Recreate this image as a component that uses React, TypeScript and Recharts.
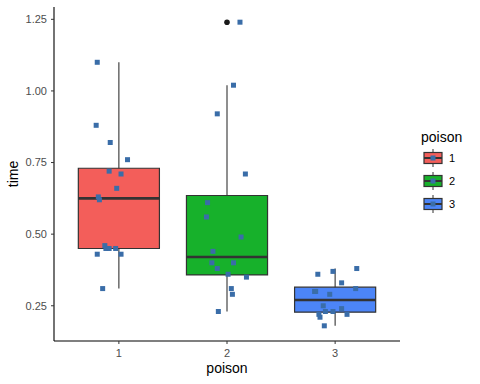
import React from 'react'
import { ScatterChart, Scatter, XAxis, YAxis, ReferenceArea, ReferenceLine } from 'recharts'

const categories = [1, 2, 3]
const categoryLabels = ['1', '2', '3']
const yTicks = [0.25, 0.5, 0.75, 1.0, 1.25]
const boxColors = ['#F35E5A', '#17B12B', '#4C85F7']

// box statistics per poison
const whiskerLow = [0.31, 0.23, 0.18]
const q1 = [0.45, 0.3575, 0.2275]
const medians = [0.625, 0.42, 0.27]
const q3 = [0.73, 0.635, 0.315]
const whiskerHigh = [1.1, 1.02, 0.38]
const outlierCat = [2]
const outlierTime = [1.24]

// jittered observations: time and horizontal jitter (category units)
const time1 = [1.1, 0.88, 0.82, 0.76, 0.72, 0.71, 0.66, 0.63, 0.62, 0.45, 0.46, 0.45, 0.45, 0.43, 0.43, 0.31]
const jitter1 = [-0.2, -0.21, -0.08, 0.08, -0.09, 0.02, -0.02, -0.19, -0.18, -0.12, -0.13, -0.09, -0.03, -0.2, 0.02, -0.15]
const time2 = [1.24, 1.02, 0.92, 0.71, 0.61, 0.56, 0.49, 0.44, 0.4, 0.38, 0.4, 0.36, 0.35, 0.31, 0.29, 0.23]
const jitter2 = [0.12, 0.06, -0.09, 0.17, -0.18, -0.19, 0.13, -0.13, -0.14, -0.09, 0.06, 0.01, 0.18, 0.04, 0.05, -0.08]
const time3 = [0.38, 0.37, 0.36, 0.33, 0.31, 0.3, 0.3, 0.29, 0.25, 0.24, 0.23, 0.23, 0.22, 0.22, 0.21, 0.18]
const jitter3 = [0.2, -0.02, -0.16, 0.06, 0.19, -0.19, -0.18, -0.05, -0.11, 0.06, -0.09, -0.02, -0.15, 0.11, -0.14, -0.1]

const times = [time1, time2, time3]
const jitters = [jitter1, jitter2, jitter3]

const pointData = categories.flatMap((c, i) =>
  times[i].map((t, j) => ({ x: c + jitters[i][j], y: t }))
)
const outlierData = outlierCat.map((c, i) => ({ x: c, y: outlierTime[i] }))

const FONT = '"Liberation Sans", Arial, Helvetica, sans-serif'
const BOX_HALF = 0.375
const LINE = '#333333'
const POINT = '#3A6DA8'

const Square = (p: any) => (
  <rect x={p.cx - 2.5} y={p.cy - 2.5} width={5} height={5} fill={POINT} />
)
const Dot = (p: any) => <circle cx={p.cx} cy={p.cy} r={2.8} fill="#1A1A1A" />

function LegendKey({ color }: { color: string }) {
  return (
    <svg width={22} height={22} style={{ display: 'block' }}>
      <line x1={11} x2={11} y1={2} y2={20} stroke={LINE} strokeWidth={1} />
      <rect x={2} y={5.5} width={18} height={11} fill={color} stroke={LINE} strokeWidth={1.2} />
      <line x1={2} x2={20} y1={11} y2={11} stroke={LINE} strokeWidth={2} />
      <rect x={8.5} y={8.5} width={5} height={5} fill={POINT} />
    </svg>
  )
}

export default function App() {
  return (
    <div style={{ position: 'absolute', left: 0, top: 0, width: 480, height: 384, background: '#fff', fontFamily: FONT }}>
      <ScatterChart width={480} height={384} margin={{ top: 7, right: 80, bottom: 0, left: 0 }}>
        <XAxis
          type="number"
          dataKey="x"
          domain={[0.4, 3.6]}
          ticks={categories}
          tickFormatter={(v: number) => categoryLabels[categories.indexOf(v)] ?? ''}
          allowDataOverflow
          height={43}
          tickSize={3}
          tickMargin={5}
          axisLine={{ stroke: '#000', strokeWidth: 1.1 }}
          tickLine={{ stroke: LINE }}
          tick={{ fill: '#4D4D4D', fontSize: 11, fontFamily: FONT }}
          label={{ value: 'poison', position: 'insideBottom', offset: 11, fill: '#000', fontSize: 14, fontFamily: FONT }}
        />
        <YAxis
          type="number"
          dataKey="y"
          domain={[0.127, 1.293]}
          ticks={yTicks}
          tickFormatter={(v: number) => v.toFixed(2)}
          allowDataOverflow
          width={54}
          tickSize={3}
          tickMargin={4}
          axisLine={{ stroke: '#000', strokeWidth: 1.1 }}
          tickLine={{ stroke: LINE }}
          tick={{ fill: '#4D4D4D', fontSize: 11, fontFamily: FONT }}
          label={{
            content: (props: any) => {
              const vb = props.viewBox || { x: 0, y: 7, width: 54, height: 334 }
              const cy = vb.y + vb.height / 2
              return (
                <text transform={`translate(${vb.x + 18},${cy}) rotate(-90)`} textAnchor="middle" fontSize={14} fontFamily={FONT} fill="#000">
                  time
                </text>
              )
            },
          }}
        />
        {categories.map((c, i) => (
          <ReferenceLine key={`wl${c}`} segment={[{ x: c, y: whiskerLow[i] }, { x: c, y: q1[i] }]} stroke={LINE} strokeWidth={1.1} />
        ))}
        {categories.map((c, i) => (
          <ReferenceLine key={`wh${c}`} segment={[{ x: c, y: q3[i] }, { x: c, y: whiskerHigh[i] }]} stroke={LINE} strokeWidth={1.1} />
        ))}
        {categories.map((c, i) => (
          <ReferenceArea
            key={`box${c}`}
            x1={c - BOX_HALF}
            x2={c + BOX_HALF}
            y1={q1[i]}
            y2={q3[i]}
            fill={boxColors[i]}
            fillOpacity={1}
            stroke={LINE}
            strokeWidth={1.2}
          />
        ))}
        {categories.map((c, i) => (
          <ReferenceLine key={`md${c}`} segment={[{ x: c - BOX_HALF, y: medians[i] }, { x: c + BOX_HALF, y: medians[i] }]} stroke={LINE} strokeWidth={2.6} />
        ))}
        <Scatter data={outlierData} shape={Dot} isAnimationActive={false} />
        <Scatter data={pointData} shape={Square} isAnimationActive={false} />
      </ScatterChart>

      <div style={{ position: 'absolute', left: 421, top: 129, fontSize: 14, color: '#000', lineHeight: '16px' }}>poison</div>
      <div style={{ position: 'absolute', left: 422, top: 147 }}>
        {categories.map((c, i) => (
          <div key={c} style={{ display: 'flex', alignItems: 'center', height: 22, marginBottom: 1 }}>
            <LegendKey color={boxColors[i]} />
            <span style={{ fontSize: 11, marginLeft: 5, color: '#000' }}>{categoryLabels[i]}</span>
          </div>
        ))}
      </div>
    </div>
  )
}
